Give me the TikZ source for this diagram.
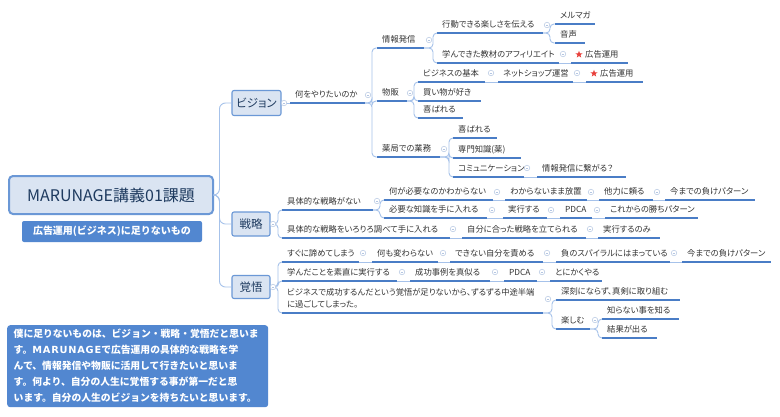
\documentclass[tikz,border=0pt]{standalone}
\usepackage{fontspec}
\setmainfont{Noto Sans CJK JP}
\newfontfamily\paltfont{Noto Sans CJK JP}[RawFeature=+palt]
\newfontfamily\latinwide{DejaVu Sans}
\usetikzlibrary{shapes.geometric}
\definecolor{ulc}{HTML}{4A7DC6}
\definecolor{cnc}{HTML}{A6C2EA}
\definecolor{txt}{HTML}{333333}
\definecolor{bxf}{HTML}{DAE4F2}
\definecolor{bxd}{HTML}{6B98D6}
\definecolor{bxt}{HTML}{1E3A5F}
\definecolor{notef}{HTML}{5287D0}
\definecolor{mkc}{HTML}{B4C6E2}
\definecolor{starc}{HTML}{E8413C}
\tikzset{
  uline/.style={ulc,line width=1.5pt},
  conn/.style={cnc,line width=0.9pt},
  topic/.style={font=\paltfont\fontsize{8.3}{9}\selectfont,text=txt,inner sep=0pt,anchor=base west},
  topic2/.style={font=\paltfont\fontsize{8.3}{12}\selectfont,text=txt,inner sep=0pt,anchor=north west,align=left},
  colmk/.style={circle,draw=mkc,fill=white,minimum size=5.5pt,inner sep=0pt,line width=0.5pt,
    path picture={\draw[mkc,line width=0.5pt] ([xshift=-1.4pt]path picture bounding box.center) -- ([xshift=1.4pt]path picture bounding box.center);}},
  starmk/.style={star,star points=5,star point ratio=2.4,fill=starc,draw=none,minimum size=7.5pt,inner sep=0pt},
  brbox/.style={draw=bxd,fill=bxf,line width=1.1pt,rounded corners=2pt,text=bxt,font=\paltfont\fontsize{11.5}{13}\selectfont,inner sep=0pt},
  rootbox/.style={draw=bxd,fill=bxf,line width=2pt,rounded corners=4pt,text=bxt,font=\fontsize{16}{18}\selectfont,inner sep=0pt,minimum width=204pt,minimum height=38pt},
  subbox/.style={fill=notef,rounded corners=2pt,text=white,font=\fontsize{10}{12}\selectfont\bfseries,inner sep=0pt,minimum width=180pt,minimum height=21pt},
  notebox/.style={fill=notef,rounded corners=3pt,text=white,font=\fontsize{9.8}{16}\selectfont\bfseries,inner xsep=6.5pt,inner ysep=0pt,text width=248pt,align=left,minimum height=82pt,anchor=north west}
}
\newcommand\tpU[5]{%
  \draw[uline] (#2,#4) coordinate (#1-w) -- (#3,#4) coordinate (#1-e);
  \node[topic] (#1) at (#2+5,#4-5.5) {#5};}
\newcommand\tpS[5]{%
  \draw[uline] (#2,#4) coordinate (#1-w) -- (#3,#4) coordinate (#1-e);
  \node[starmk] (#1-s) at (#2+8,#4-8.5) {};
  \node[topic] (#1) at (#2+14,#4-5.5) {#5};}
\newcommand\cmk[3]{\node[colmk] (#1) at (#2,#3) {};}
\newcommand\lnS[2]{\draw[conn] (#1-e) -- (#2-w);}
\newcommand\lnB[3]{\draw[conn,rounded corners=4pt] (#1-e) -| ([xshift=-#3pt]#2-w) -- (#2-w);}
\newcommand\lnN[3]{\draw[conn,rounded corners=4pt] (#1.east) -| ([xshift=-#3pt]#2-w) -- (#2-w);}
\newcommand\wideM{{\latinwide\bfseries M\kern0.8ptA\kern0.8ptR\kern0.8ptU\kern0.8ptN\kern0.8ptA\kern0.8ptG\kern0.8ptE}}
\begin{document}
\begin{tikzpicture}[x=1pt,y=-1pt]
\useasboundingbox (0,0) rectangle (780,416);
\fill[white] (0,0) rectangle (780,416);

% ---- root and labels
\node[rootbox] (root) at (111,195) {MARUNAGE講義01課題};
\node[subbox] (sub) at (112,231.5) {広告運用(ビジネス)に足りないもの};
\node[notebox] (note) at (7,325) {僕に足りないものは、ビジョン・戦略・覚悟だと思いま\\す。\wideM で広告運用の具体的な戦略を学\\んで、情報発信や物販に活用して行きたいと思いま\\す。何より、自分の人生に覚悟する事が第一だと思\\います。自分の人生のビジョンを持ちたいと思います。};

% ---- main branches
\node[brbox,minimum width=49pt,minimum height=25pt] (vis) at (256.5,103) {ビジョン};
\node[brbox,minimum width=38pt,minimum height=24pt] (str) at (251,224) {戦略};
\node[brbox,minimum width=38pt,minimum height=23pt] (kak) at (251,287) {覚悟};
\draw[conn,rounded corners=6pt] (root.east) -| ([xshift=-12pt]vis.west) -- (vis.west);
\draw[conn,rounded corners=6pt] (root.east) -| ([xshift=-12pt]str.west) -- (str.west);
\draw[conn,rounded corners=6pt] (root.east) -| ([xshift=-12pt]kak.west) -- (kak.west);

% ---- vision
\tpU{wy}{290}{365}{103}{何をやりたいのか}
\draw[conn] (vis.east) -- (wy-w);
\tpU{jh}{377}{424}{48}{情報発信}
\tpU{bh}{377}{407}{101}{物販}
\tpU{yk}{377}{440}{157}{薬局での業務}
\lnB{wy}{jh}{5}\lnB{wy}{bh}{5}\lnB{wy}{yk}{5}
\tpU{kd}{437}{543}{33}{行動できる楽しさを伝える}
\tpU{mn}{437}{559}{63}{学んできた教材のアフィリエイト}
\lnB{jh}{kd}{4}\lnB{jh}{mn}{4}
\tpU{mm}{555}{595}{24}{メルマガ}
\tpU{on}{555}{585}{43}{音声}
\lnB{kd}{mm}{5}\lnB{kd}{on}{5}
\tpS{adA}{571}{628}{63}{広告運用}
\lnS{mn}{adA}
\tpU{bz}{418}{485}{82}{ビジネスの基本}
\tpU{km}{418}{481}{101}{買い物が好き}
\tpU{yrA}{418}{463}{118}{喜ばれる}
\lnB{bh}{bz}{4}\lnB{bh}{km}{4}\lnB{bh}{yrA}{4}
\tpU{ns}{498}{573}{82}{ネットショップ運営}
\lnS{bz}{ns}
\tpS{adB}{586}{643}{82}{広告運用}
\lnS{ns}{adB}
\tpU{yrB}{453}{497}{138}{喜ばれる}
\tpU{sm}{453}{521}{158}{専門知識(薬)}
\tpU{cm}{453}{524}{177}{コミュニケーション}
\lnB{yk}{yrB}{4}\lnB{yk}{sm}{4}\lnB{yk}{cm}{4}
\tpU{jt}{537}{626}{177}{情報発信に繋がる？}
\lnS{cm}{jt}

% ---- strategy
\tpU{gs}{282}{373}{210}{具体的な戦略がない}
\tpU{gi}{282}{450}{238}{具体的な戦略をいろりろ調べて手に入れる}
\lnN{str}{gs}{4}\lnN{str}{gi}{4}
\tpU{nh}{384}{493}{200}{何が必要なのかわからない}
\tpU{hc}{384}{487}{218}{必要な知識を手に入れる}
\lnB{gs}{nh}{4}\lnB{gs}{hc}{4}
\tpU{wm}{505}{587}{200}{わからないまま放置}
\tpU{tr}{599}{653}{200}{他力に頼る}
\tpU{mpA}{665}{755}{200}{今までの負けパターン}
\lnS{nh}{wm}\lnS{wm}{tr}\lnS{tr}{mpA}
\tpU{jk}{503}{547}{218}{実行する}
\tpU{pdA}{560}{592}{218}{PDCA}
\tpU{kk}{605}{698}{218}{これからの勝ちパターン}
\lnS{hc}{jk}\lnS{jk}{pdA}\lnS{pdA}{kk}
\tpU{ja}{462}{586}{238}{自分に合った戦略を立てられる}
\tpU{jn}{598}{660}{238}{実行するのみ}
\lnS{gi}{ja}\lnS{ja}{jn}

% ---- resolve
\tpU{sa}{282}{359}{262}{すぐに諦めてしまう}
\tpU{mj}{282}{397}{281}{学んだことを素直に実行する}
\draw[uline] (282,313) coordinate (bs-w) -- (543,313) coordinate (bs-e);
\node[topic2] (bs) at (287,288.5) {ビジネスで成功するんだという覚悟が足りないから、ずるずる中途半端\\に過ごしてしまった。};
\lnN{kak}{sa}{4}\lnN{kak}{mj}{4}\lnN{kak}{bs}{4}
\tpU{nk}{372}{438}{262}{何も変わらない}
\tpU{ds}{450}{543}{262}{できない自分を責める}
\tpU{fs}{556}{670}{262}{負のスパイラルにはまっている}
\tpU{mpB}{682}{771}{262}{今までの負けパターン}
\lnS{sa}{nk}\lnS{nk}{ds}\lnS{ds}{fs}\lnS{fs}{mpB}
\tpU{sj}{410}{490}{281}{成功事例を真似る}
\tpU{pdB}{504}{537}{281}{PDCA}
\tpU{tk}{550}{602}{281}{とにかくやる}
\lnS{mj}{sj}\lnS{sj}{pdB}\lnS{pdB}{tk}
\tpU{sn}{556}{680}{300}{深刻にならず、真剣に取り組む}
\tpU{tn}{556}{590}{329}{楽しむ}
\lnB{bs}{sn}{4}\lnB{bs}{tn}{4}
\tpU{sr}{602}{679}{319}{知らない事を知る}
\tpU{kdB}{602}{657}{338}{結果が出る}
\lnB{tn}{sr}{4}\lnB{tn}{kdB}{4}

% ---- collapse markers
\cmk{m1}{284}{103}\cmk{m2}{273}{224}\cmk{m3}{273}{287}
\cmk{m4}{368}{95}\cmk{m5}{429}{40}\cmk{m6}{410}{93}\cmk{m7}{444}{149}
\cmk{m8}{547}{25}\cmk{m9}{563}{54}\cmk{m10}{491}{73}\cmk{m11}{577}{73}
\cmk{m12}{527}{168}
\cmk{m13}{377}{201}\cmk{m14}{453}{229}\cmk{m15}{497}{192}\cmk{m16}{492}{210}
\cmk{m17}{591}{192}\cmk{m18}{657}{192}\cmk{m19}{551}{210}\cmk{m20}{597}{210}
\cmk{m21}{590}{229}
\cmk{m22}{363}{253}\cmk{m23}{402}{272}\cmk{m24}{548}{299}
\cmk{m25}{443}{253}\cmk{m26}{547}{253}\cmk{m27}{674}{253}
\cmk{m28}{495}{272}\cmk{m29}{542}{272}\cmk{m30}{595}{320}
\end{tikzpicture}
\end{document}
